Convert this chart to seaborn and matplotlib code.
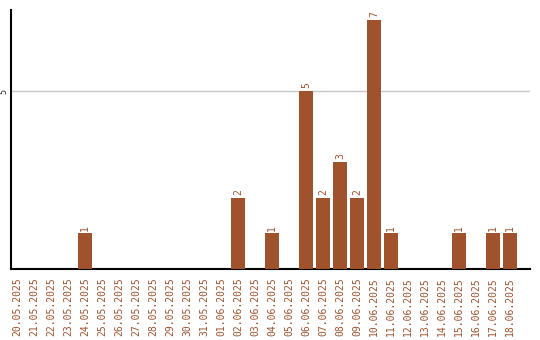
import matplotlib
matplotlib.use("Agg")
import matplotlib.pyplot as plt
import seaborn as sns
import pandas as pd

dates = ["20.05.2025", "21.05.2025", "22.05.2025", "23.05.2025", "24.05.2025",
         "25.05.2025", "26.05.2025", "27.05.2025", "28.05.2025", "29.05.2025",
         "30.05.2025", "31.05.2025", "01.06.2025", "02.06.2025", "03.06.2025",
         "04.06.2025", "05.06.2025", "06.06.2025", "07.06.2025", "08.06.2025",
         "09.06.2025", "10.06.2025", "11.06.2025", "12.06.2025", "13.06.2025",
         "14.06.2025", "15.06.2025", "16.06.2025", "17.06.2025", "18.06.2025"]
counts = [0, 0, 0, 0, 1, 0, 0, 0, 0, 0, 0, 0, 0, 2, 0, 1, 0, 5, 2, 3, 2, 7, 1,
          0, 0, 0, 1, 0, 1, 1]

color = "#A0522D"
df = pd.DataFrame({"date": dates, "count": counts})

sns.set_style("white")
plt.rcParams['font.family'] = ['DejaVu Sans Mono', 'DejaVu Sans']

fig = plt.figure(figsize=(5.4, 3.4), dpi=100)
ax = fig.add_axes([11/540, 1 - 269/340, (530 - 11)/540, (269 - 10)/340])

sns.barplot(data=df, x="date", y="count", color=color, saturation=1,
            width=14/17, ax=ax, zorder=3, linewidth=0, edgecolor="none")

ax.set_xlim(-0.35, 29 + 20/17)
ax.set_ylim(0, 7.28)
ax.set_yticks([5])
ax.set_yticklabels(["5"], rotation=90, va="center", fontsize=6)
ax.yaxis.grid(True, color="#c8c8c8", linewidth=1, zorder=0)
ax.set_axisbelow(True)
ax.tick_params(axis="y", length=0, pad=2)
ax.tick_params(axis="x", length=0, pad=6)
ax.set_xticks(range(len(dates)))
ax.set_xticklabels(dates, rotation=90, color=color, fontsize=7)
ax.set_xlabel("")
ax.set_ylabel("")

for s in ["top", "right"]:
    ax.spines[s].set_visible(False)
for s in ["left", "bottom"]:
    ax.spines[s].set_color("black")
    ax.spines[s].set_linewidth(1.5)

for i, v in enumerate(counts):
    if v > 0:
        ax.annotate(str(v), (i, v), xytext=(0, 2), textcoords="offset points",
                    rotation=90, ha="center", va="bottom", color=color,
                    fontsize=7)

fig.savefig("out.png", dpi=100)
